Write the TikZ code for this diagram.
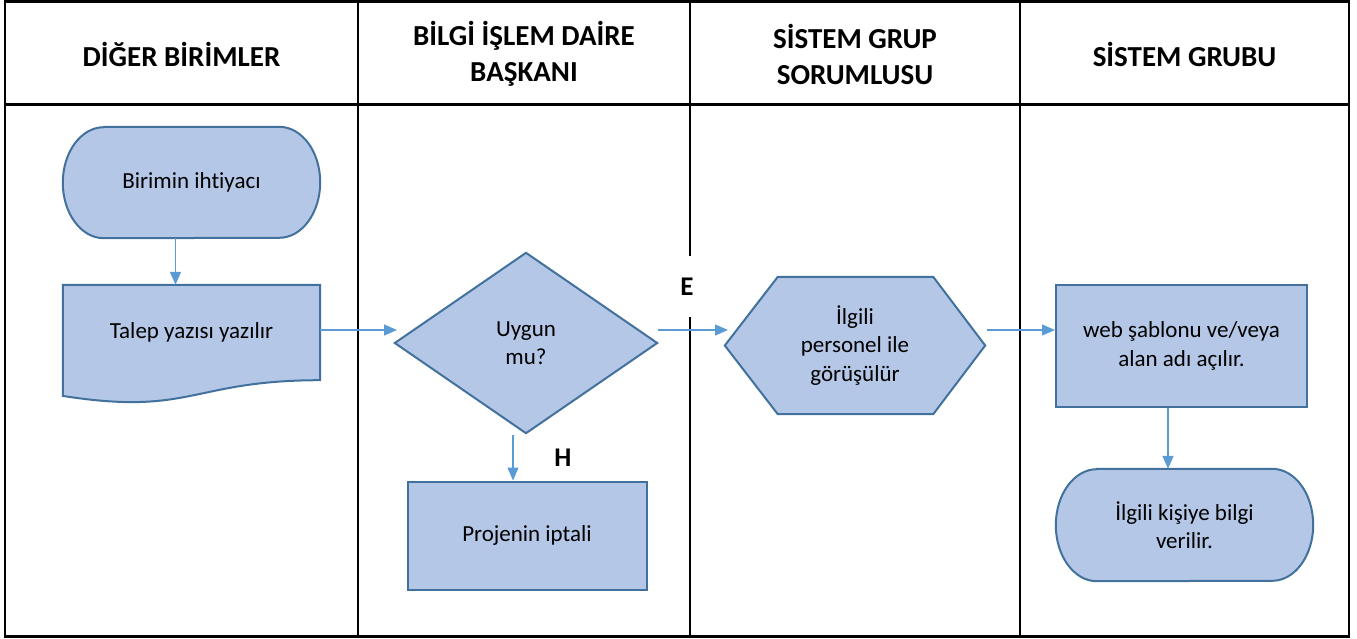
\documentclass[tikz,border=0pt]{standalone}
\usepackage{fontspec}
\setmainfont{Carlito}[Ligatures={NoCommon}]
\usetikzlibrary{arrows.meta,backgrounds,calc}
\definecolor{shapefill}{HTML}{B4C7E7}
\definecolor{shapeedge}{HTML}{41719C}
\definecolor{flowline}{HTML}{5B9BD5}
\begin{document}
\begin{tikzpicture}[x=1pt,y=-1pt,
  tbl/.style={line width=2.5pt,black},
  hdr/.style={font=\fontsize{29}{36}\selectfont\bfseries,align=center,inner sep=0pt},
  area/.style={inner sep=0pt,align=center,font=\fontsize{23}{28.5}\selectfont},
  boxshape/.style={area,draw=shapeedge,fill=shapefill,line width=2pt},
  shapeline/.style={draw=shapeedge,fill=shapefill,line width=2pt,line join=miter},
  flow/.style={draw=flowline,line width=1.3pt,-{Triangle[length=13pt,width=11pt]}},
  branchlbl/.style={font=\fontsize{27}{32}\selectfont\bfseries,inner sep=0pt}]
\useasboundingbox (0,0) rectangle (1357,638);

% swimlane table
\draw[tbl] (5,1.5) rectangle (1349,636.5);
\draw[tbl] (5,104.5) -- (1349,104.5);
\draw[tbl] (358,1.5) -- (358,636.5);
\draw[tbl] (690,1.5) -- (690,256);
\draw[tbl] (690,317) -- (690,636.5);
\draw[tbl] (1020,1.5) -- (1020,636.5);

% lane headers
\node[hdr] (h1) at (181.5,54) {DİĞER BİRİMLER};
\node[hdr] (h2) at (524,54) {BİLGİ İŞLEM DAİRE\\BAŞKANI};
\node[hdr] (h3) at (855,54) {SİSTEM GRUP\\SORUMLUSU};
\node[hdr] (h4) at (1184.5,54) {SİSTEM GRUBU};

% flow elements
\node[area,minimum width=257pt,minimum height=111pt] (start) at (191.5,182.5) {Birimin ihtiyacı};
\node[area,minimum width=257pt,minimum height=95pt] (doc) at (191.5,332.5) {Talep yazısı yazılır};
\node[area,minimum width=262pt,minimum height=180pt] (dec) at (526,343) {Uygun\\mu?};
\node[boxshape,minimum width=239pt,minimum height=108pt] (cancel) at (527,535.5) {Projenin iptali};
\node[area,minimum width=260pt,minimum height=137pt] (hex) at (855,345.5) {İlgili\\personel ile\\görüşülür};
\node[boxshape,minimum width=251pt,minimum height=122pt] (web) at (1181.5,346) {web şablonu ve/veya\\alan adı açılır.};
\node[area,minimum width=257pt,minimum height=112pt] (finish) at (1184.5,525) {İlgili kişiye bilgi\\verilir.};

% outlines of the non-rectangular symbols
\begin{scope}[on background layer]
  \path[shapeline] ([xshift=41pt]start.north west) -- ([xshift=-41pt]start.north east)
    arc[start angle=90,end angle=-90,x radius=41pt,y radius=55.5pt]
    -- ([xshift=41pt]start.south west)
    arc[start angle=270,end angle=90,x radius=41pt,y radius=55.5pt] -- cycle;
  \path[shapeline] (doc.north west) -- (doc.north east) -- (doc.south east)
    .. controls (doc.south) and ($(doc.south)+(0,36)$) .. ($(doc.south west)+(0,15.7)$) -- cycle;
  \path[shapeline] (dec.north) -- (dec.east) -- (dec.south) -- (dec.west) -- cycle;
  \path[shapeline] ([xshift=53pt]hex.north west) -- ([xshift=-52pt]hex.north east) -- (hex.east)
    -- ([xshift=-52pt]hex.south east) -- ([xshift=53pt]hex.south west) -- (hex.west) -- cycle;
  \path[shapeline] ([xshift=41pt]finish.north west) -- ([xshift=-41pt]finish.north east)
    arc[start angle=90,end angle=-90,x radius=41pt,y radius=56pt]
    -- ([xshift=41pt]finish.south west)
    arc[start angle=270,end angle=90,x radius=41pt,y radius=56pt] -- cycle;
\end{scope}

% connector ends that stop short of the symbols
\coordinate (decin) at (397,330);
\coordinate (decout) at (658,330);
\coordinate (hexin) at (728,330);
\coordinate (hexout) at (987,330);
\coordinate (decdown) at (513,435);

% connectors
\draw[flow] ([xshift=-16pt]start.south) -- ([xshift=-16pt]start.south |- doc.north);
\draw[flow] (doc.east |- decin) -- (decin);
\draw[flow] (decout) -- (hexin);
\draw[flow] (decdown) -- (decdown |- cancel.north);
\draw[flow] (hexout) -- (hexout -| web.west);
\draw[flow] ([xshift=-13.5pt]web.south) -- ([xshift=-13.5pt]web.south |- finish.north);

% branch labels
\node[branchlbl] (yes) at (687,287) {E};
\node[branchlbl] (no) at (563,458) {H};
\end{tikzpicture}
\end{document}
